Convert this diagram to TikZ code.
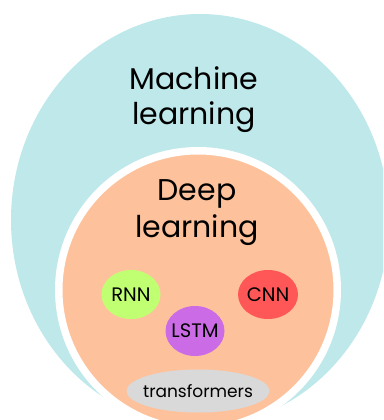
\documentclass[tikz,border=0pt]{standalone}
\usepackage{fontspec}
\setmainfont{Poppins}
\usetikzlibrary{shapes.geometric}

\definecolor{mlteal}{RGB}{190,232,233}
\definecolor{dlpeach}{RGB}{253,194,156}
\definecolor{rnngreen}{RGB}{193,255,114}
\definecolor{cnnred}{RGB}{255,87,87}
\definecolor{lstmpurple}{RGB}{203,108,230}
\definecolor{trgray}{RGB}{217,217,217}

% label of fixed zero width, so the ellipse keeps its given size
\newcommand\flatlabel[1]{\makebox[0pt]{#1}}

\tikzset{
  region/.style={ellipse, inner sep=0pt},
  bigtitle/.style={align=center, inner sep=0pt, text=black},
  model/.style={ellipse, inner sep=0pt, minimum width=59pt, minimum height=49pt,
                text=black, font=\fontsize{19.5}{23}\selectfont},
}

\begin{document}
\begin{tikzpicture}[x=1pt, y=-1pt]
  \useasboundingbox (0,0) rectangle (383,420);
  \clip (0,0) rectangle (383,420);

  % outer set: machine learning
  \node[region, fill=mlteal, minimum width=378pt, minimum height=412pt] (ml) at (200,220) {};

  % inner set: deep learning, with a white rim
  \node[region, fill=dlpeach, draw=white, line width=7.5pt,
        minimum width=278.5pt, minimum height=278.5pt] (dl) at (198,290) {};

  \node[bigtitle, anchor=north, font=\fontsize{30}{35}\selectfont] (mltext) at (194,66)
    {Machine\\learning};
  \node[bigtitle, anchor=north, font=\fontsize{30}{37}\selectfont] (dltext) at (197,179)
    {Deep\\learning};

  % model families
  \node[model, fill=rnngreen] (rnn) at (131,294.5) {\flatlabel{RNN}};
  \node[model, fill=cnnred, minimum width=60pt] (cnn) at (268,294.5) {\flatlabel{CNN}};
  \node[model, fill=lstmpurple, minimum height=50pt] (lstm) at (195,331) {\flatlabel{LSTM}};
  \node[model, fill=trgray, minimum width=143pt, minimum height=43pt,
        font=\fontsize{17}{20}\selectfont] (tr) at (198,391) {\flatlabel{transformers}};
\end{tikzpicture}
\end{document}
